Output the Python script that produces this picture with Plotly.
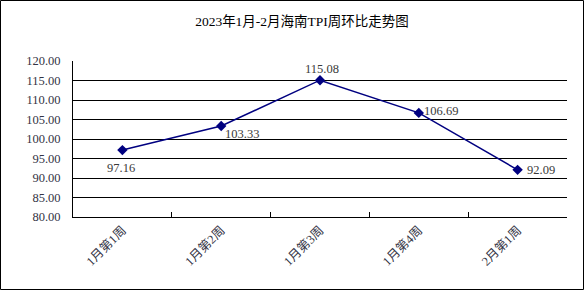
import plotly.graph_objects as go

categories = ["1月第1周", "1月第2周", "1月第3周", "1月第4周", "2月第1周"]
values = [97.16, 103.33, 115.08, 106.69, 92.09]
y_ticks = [80, 85, 90, 95, 100, 105, 110, 115, 120]

# label offsets from each point (pixels): style only
label_dx = [-1, 21, 2, 22, 23]
label_dy = [-18, -8, 11, 2, 0]

W, H = 584, 290
L, R, T, B = 73, 17, 61, 73
pw, ph = W - L - R, H - T - B

font_family = "Liberation Serif, Noto Sans CJK SC, serif"
label_color = "#333344"

fig = go.Figure()
fig.add_trace(go.Scatter(
    x=categories, y=values, mode="lines+markers",
    line=dict(color="#000080", width=1.5),
    marker=dict(symbol="diamond", size=8, color="#000080"),
    cliponaxis=False, hoverinfo="skip",
))

annotations = [
    dict(x=c, y=v, xref="x", yref="y", text=f"{v:.2f}", showarrow=False,
         xshift=dx, yshift=dy, xanchor="center", yanchor="middle",
         font=dict(family=font_family, size=12.5, color="#3a3a3a"))
    for c, v, dx, dy in zip(categories, values, label_dx, label_dy)
]

def px_x(p):
    return (p - L) / pw

def px_y(p):
    return (H - B - p) / ph

fig.update_layout(
    width=W, height=H,
    margin=dict(l=L, r=R, t=T, b=B, pad=0),
    paper_bgcolor="white", plot_bgcolor="white",
    showlegend=False,
    title=dict(text="2023年1月-2月海南TPI周环比走势图", x=302 / W, xanchor="center",
               y=1 - 21 / H, yanchor="middle",
               font=dict(family=font_family, size=13.5, color="black")),
    xaxis=dict(
        type="category", categoryorder="array", categoryarray=categories,
        range=[-0.5, len(categories) - 0.5],
        tickson="boundaries", ticks="inside", ticklen=5, tickcolor="black", tickwidth=1,
        showline=True, linecolor="black", linewidth=1,
        showgrid=False, tickangle=-45,
        tickfont=dict(family=font_family, size=12.5, color=label_color),
        fixedrange=True,
    ),
    yaxis=dict(
        range=[80, 120], tickvals=y_ticks, ticktext=[f"{v:.2f}" for v in y_ticks],
        showgrid=True, gridcolor="black", gridwidth=1,
        showline=True, linecolor="black", linewidth=1,
        ticks="", ticklabelstandoff=9,
        tickfont=dict(family=font_family, size=12.5, color=label_color),
        zeroline=False, fixedrange=True,
    ),
    annotations=annotations,
    shapes=[dict(type="rect", xref="paper", yref="paper",
                 x0=px_x(0.5), x1=px_x(W - 0.5), y0=px_y(H - 0.5), y1=px_y(0.5),
                 line=dict(color="black", width=1), fillcolor="rgba(0,0,0,0)", layer="above")],
)

fig.write_html("out.html")
